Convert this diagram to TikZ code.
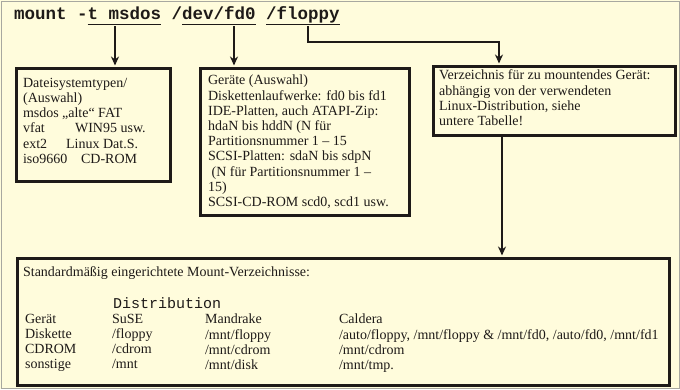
\documentclass[tikz,border=0pt]{standalone}
\usepackage{fontspec}
\setmainfont{Liberation Serif}
\setmonofont{Liberation Mono}
\usetikzlibrary{arrows.meta}
\definecolor{paper}{HTML}{FFFCDC}
\definecolor{framegrey}{HTML}{A8A8A0}
\definecolor{ink}{HTML}{1E1A18}
\newcommand\cmdul[1]{\underline{\vphantom{y}#1}}
\begin{document}
\begin{tikzpicture}[x=1pt, y=-1pt, ->, >={Stealth[length=9pt,width=8pt]}, line width=2.2pt, shorten >=1.5pt, ink,
    box/.style={draw, line width=3pt, anchor=north west, inner sep=0pt},
    boxtext/.style={anchor=north west, inner sep=0pt, align=left, text=ink, font=\fontsize{14}{15.2}\selectfont}]
        % Background
        \fill[paper] (0,0) rectangle (680,389);
        \draw[framegrey, line width=0.8pt] (1,1) rectangle (679,388);
        \useasboundingbox (0,0) rectangle (680,389);

        % Command line
        \node (cmd) [anchor=base west, inner sep=0pt, font=\ttfamily\bfseries\fontsize{17.5}{20}\selectfont] at (13,19) {mount -\cmdul{t msdos} /\cmdul{dev/fd0} \cmdul{/floppy}};

        % Boxes
        \node (fsbox) [box, minimum width=154pt, minimum height=113pt] at (15,67) {};
        \node (devbox) [box, minimum width=209pt, minimum height=147pt] at (199,67) {};
        \node (dirbox) [box, minimum width=242pt, minimum height=69pt] at (432,65) {};
        \node (tabbox) [box, minimum width=652pt, minimum height=127pt] at (16,257) {};

        % Box texts
        \node (fstext) [boxtext] at (22,77) {Dateisystemtypen/\\(Auswahl)\\
            \makebox[39pt][l]{msdos}„alte“ FAT\\
            \makebox[52pt][l]{vfat}WIN95 usw.\\
            \makebox[43pt][l]{ext2}Linux Dat.S.\\
            \makebox[58pt][l]{iso9660}CD-ROM};
        \node (devtext) [boxtext] at (207,74) {Geräte (Auswahl)\\
            Diskettenlaufwerke: fd0 bis fd1\\
            IDE-Platten, auch ATAPI-Zip:\\
            hdaN bis hddN (N für\\
            Partitionsnummer 1 – 15\\
            SCSI-Platten: sdaN bis sdpN\\
            \ (N für Partitionsnummer 1 –\\
            15)\\
            SCSI-CD-ROM scd0, scd1 usw.};
        \node (dirtext) [boxtext] at (438,69) {Verzeichnis für zu mountendes Gerät:\\
            abhängig von der verwendeten\\
            Linux-Distribution, siehe\\
            untere Tabelle!};

        % Table
        \node (tabtitle) [boxtext] at (22,266) {Standardmäßig eingerichtete Mount-Verzeichnisse:};
        \node (distlabel) [anchor=base west, inner sep=0pt, font=\ttfamily\fontsize{15}{16}\selectfont] at (112,308) {Distribution};
        \node (devcol) [boxtext] at (24,313) {Gerät\\Diskette\\CDROM\\sonstige};
        \node (susecol) [boxtext] at (111,313) {SuSE\\/floppy\\/cdrom\\/mnt};
        \node (mdkcol) [boxtext] at (204,313) {Mandrake\\/mnt/floppy\\/mnt/cdrom\\/mnt/disk};
        \node (calcol) [boxtext] at (338,313) {Caldera\\/auto/floppy, /mnt/floppy \& /mnt/fd0, /auto/fd0, /mnt/fd1\\/mnt/cdrom\\/mnt/tmp.};

        % Connectors
        \coordinate (msdosPt) at (115,26);
        \coordinate (devPt) at (234,26);
        \coordinate (floppyPt) at (308,26);
        \coordinate (floppyBend) at (499,42);
        \coordinate (tabPt) at (502,0);
        \draw (msdosPt) -- (msdosPt |- fsbox.north);
        \draw (devPt) -- (devPt |- devbox.north);
        \draw (floppyPt) |- (floppyBend) -- (floppyBend |- dirbox.north);
        \draw (tabPt |- dirbox.south) -- (tabPt |- tabbox.north);
    \end{tikzpicture}
\end{document}
